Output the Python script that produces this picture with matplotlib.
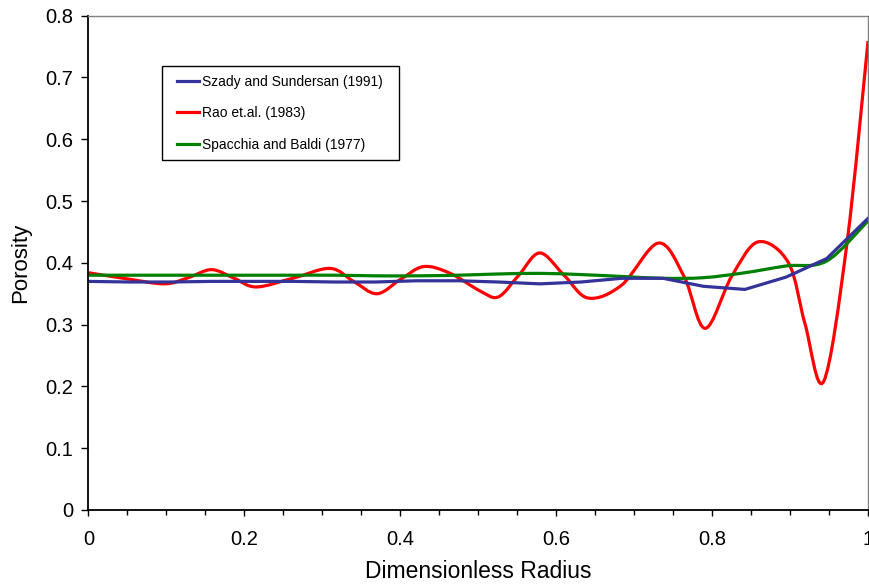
import numpy as np
import matplotlib
matplotlib.use("Agg")
import matplotlib.pyplot as plt
from matplotlib.path import Path
from matplotlib.patches import PathPatch, Rectangle
from matplotlib.lines import Line2D
from matplotlib.ticker import MultipleLocator, FuncFormatter

plt.rcParams['font.family'] = ['Liberation Sans', 'DejaVu Sans']

# porosity profiles vs dimensionless radius
r_szady = [0.000, 0.053, 0.105, 0.158, 0.211, 0.263, 0.316, 0.368, 0.421, 0.474,
           0.526, 0.579, 0.632, 0.684, 0.737, 0.789, 0.842, 0.895, 0.947, 1.000]
eps_szady = [0.370, 0.369, 0.369, 0.370, 0.370, 0.370, 0.369, 0.369, 0.371, 0.371,
             0.369, 0.366, 0.369, 0.375, 0.375, 0.362, 0.357, 0.377, 0.407, 0.472]

r_rao = [0.000, 0.050, 0.098, 0.128, 0.158, 0.187, 0.215, 0.262, 0.310, 0.340,
         0.370, 0.400, 0.430, 0.464, 0.503, 0.526, 0.552, 0.579, 0.610, 0.641,
         0.684, 0.731, 0.764, 0.791, 0.825, 0.859, 0.898, 0.919, 0.943, 0.973,
         1.000]
eps_rao = [0.384, 0.374, 0.366, 0.376, 0.389, 0.375, 0.361, 0.375, 0.391, 0.370,
           0.350, 0.373, 0.394, 0.383, 0.354, 0.345, 0.380, 0.416, 0.380, 0.343,
           0.364, 0.432, 0.378, 0.294, 0.378, 0.434, 0.400, 0.302, 0.208, 0.432,
           0.759]

r_spacchia = r_szady
eps_spacchia = [0.380, 0.380, 0.380, 0.380, 0.380, 0.380, 0.380, 0.379, 0.379, 0.380,
                0.382, 0.383, 0.381, 0.378, 0.375, 0.376, 0.384, 0.395, 0.403, 0.468]

labels = ["Szady and Sundersan (1991)", "Rao et.al. (1983)", "Spacchia and Baldi (1977)"]
colors = ["#333399", "#FF0000", "#008000"]


def smooth_path(x, y):
    # cardinal (Catmull-Rom) bezier through the points, like a spreadsheet smoothed line
    p = np.column_stack([x, y])
    ext = np.vstack([p[0], p, p[-1]])
    verts = [p[0]]
    codes = [Path.MOVETO]
    for i in range(len(p) - 1):
        p0, p1, p2, p3 = ext[i], ext[i + 1], ext[i + 2], ext[i + 3]
        verts += [p1 + (p2 - p0) / 6.0, p2 - (p3 - p1) / 6.0, p2]
        codes += [Path.CURVE4] * 3
    return Path(verts, codes)


fig = plt.figure(figsize=(8.69, 5.86), dpi=100)
ax = fig.add_axes([0.1018, 0.1297, 0.8971, 0.8435])

lw = 2.3
ax.plot(r_szady, eps_szady, color=colors[0], lw=lw, solid_joinstyle='round')
ax.add_patch(PathPatch(smooth_path(r_rao, eps_rao), facecolor='none',
                       edgecolor=colors[1], lw=lw))
ax.add_patch(PathPatch(smooth_path(r_spacchia, eps_spacchia), facecolor='none',
                       edgecolor=colors[2], lw=lw))

ax.set_xlim(0, 1)
ax.set_ylim(0, 0.8)
ax.xaxis.set_major_locator(MultipleLocator(0.2))
ax.xaxis.set_minor_locator(MultipleLocator(0.05))
ax.yaxis.set_major_locator(MultipleLocator(0.1))
fmt = FuncFormatter(lambda v, pos: "0" if abs(v) < 1e-9 else ("1" if abs(v - 1) < 1e-9 else f"{v:.1f}"))
ax.xaxis.set_major_formatter(fmt)
ax.yaxis.set_major_formatter(fmt)

ax.tick_params(axis='x', which='major', direction='out', length=4.5, width=1,
               labelsize=14.5, pad=10)
ax.tick_params(axis='x', which='minor', direction='out', length=3.5, width=1)
ax.tick_params(axis='y', which='major', direction='out', length=5, width=1,
               labelsize=14.5, pad=6)

for side in ['top', 'right']:
    ax.spines[side].set_color('#808080')
    ax.spines[side].set_linewidth(1)
for side in ['left', 'bottom']:
    ax.spines[side].set_color('black')
    ax.spines[side].set_linewidth(1.3)

ax.set_xlabel("Dimensionless Radius", fontsize=16.5, labelpad=8)
ax.set_ylabel("Porosity", fontsize=16, labelpad=10)

handles = [Line2D([], [], color=c, lw=lw) for c in colors]
ax.legend(handles, labels, loc='upper left', bbox_to_anchor=(0.1133, 0.881),
          frameon=False, fontsize=10, handlelength=1.6, handletextpad=0.2,
          labelspacing=1.27, borderaxespad=0, borderpad=0)
ax.add_patch(Rectangle((0.0943, 0.709), 0.304, 0.190, transform=ax.transAxes,
                       facecolor='white', edgecolor='black', lw=1, zorder=4))
ax.get_legend().set_zorder(5)

fig.savefig("out.png", dpi=100)
